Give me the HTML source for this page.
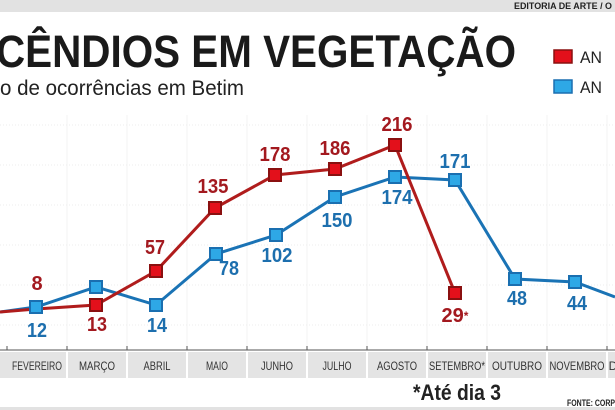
<!DOCTYPE html>
<html><head><meta charset="utf-8"><style>
html,body{margin:0;padding:0;background:#fff;}
body{width:615px;height:410px;overflow:hidden;position:relative;font-family:"Liberation Sans Narrow","Liberation Sans",sans-serif;}
</style></head><body>
<svg width="615" height="410" viewBox="0 0 615 410" xmlns="http://www.w3.org/2000/svg" style="position:absolute;left:0;top:0" font-family="Liberation Sans Narrow, Liberation Sans, sans-serif">
<rect x="0" y="0" width="615" height="12" fill="#e2e2e2"/>
<text x="612" y="9" text-anchor="end" font-size="9" font-weight="bold" fill="#222" textLength="98" lengthAdjust="spacingAndGlyphs">EDITORIA DE ARTE / O</text>
<text x="-4" y="67" font-size="45" font-weight="bold" fill="#1a1a1a" textLength="520" lengthAdjust="spacingAndGlyphs">CÊNDIOS EM VEGETAÇÃO</text>
<text x="0" y="95" font-size="21" fill="#222" textLength="244" lengthAdjust="spacingAndGlyphs">o de ocorrências em Betim</text>
<rect x="554" y="50" width="18" height="13" fill="#e3101b" stroke="#8a1010" stroke-width="1.5"/>
<rect x="554" y="80" width="18" height="13" fill="#2ea8e6" stroke="#1a6fb0" stroke-width="1.5"/>
<text x="580" y="63" font-size="17" fill="#222" textLength="22" lengthAdjust="spacingAndGlyphs">AN</text>
<text x="580" y="93" font-size="17" fill="#222" textLength="22" lengthAdjust="spacingAndGlyphs">AN</text>
<g stroke="#ececec" stroke-width="1" stroke-dasharray="1,2">
<line x1="0" y1="125" x2="615" y2="125"/><line x1="0" y1="165" x2="615" y2="165"/>
<line x1="0" y1="205" x2="615" y2="205"/><line x1="0" y1="245" x2="615" y2="245"/>
<line x1="0" y1="285" x2="615" y2="285"/><line x1="0" y1="325" x2="615" y2="325"/>
</g>
<g stroke="#f3f3f3" stroke-width="1">
<line x1="67" y1="115" x2="67" y2="350"/><line x1="127" y1="115" x2="127" y2="350"/><line x1="187" y1="115" x2="187" y2="350"/><line x1="247" y1="115" x2="247" y2="350"/><line x1="307" y1="115" x2="307" y2="350"/><line x1="367" y1="115" x2="367" y2="350"/><line x1="427" y1="115" x2="427" y2="350"/><line x1="487" y1="115" x2="487" y2="350"/><line x1="547" y1="115" x2="547" y2="350"/><line x1="607" y1="115" x2="607" y2="350"/>
</g>
<rect x="0" y="352" width="615" height="26" fill="#e4e4e4"/>
<g fill="#fff"><rect x="66" y="352" width="2" height="26"/><rect x="126" y="352" width="2" height="26"/><rect x="186" y="352" width="2" height="26"/><rect x="246" y="352" width="2" height="26"/><rect x="306" y="352" width="2" height="26"/><rect x="366" y="352" width="2" height="26"/><rect x="426" y="352" width="2" height="26"/><rect x="486" y="352" width="2" height="26"/><rect x="546" y="352" width="2" height="26"/><rect x="606" y="352" width="2" height="26"/></g>
<line x1="0" y1="350" x2="615" y2="350" stroke="#555" stroke-width="1"/>
<g stroke="#555"><line x1="7" y1="346" x2="7" y2="350"/><line x1="67" y1="346" x2="67" y2="350"/><line x1="127" y1="346" x2="127" y2="350"/><line x1="187" y1="346" x2="187" y2="350"/><line x1="247" y1="346" x2="247" y2="350"/><line x1="307" y1="346" x2="307" y2="350"/><line x1="367" y1="346" x2="367" y2="350"/><line x1="427" y1="346" x2="427" y2="350"/><line x1="487" y1="346" x2="487" y2="350"/><line x1="547" y1="346" x2="547" y2="350"/><line x1="607" y1="346" x2="607" y2="350"/></g>
<g font-size="12" fill="#333" text-anchor="middle">
<text x="37" y="370" textLength="50" lengthAdjust="spacingAndGlyphs">FEVEREIRO</text>
<text x="97" y="370" textLength="36" lengthAdjust="spacingAndGlyphs">MARÇO</text>
<text x="157" y="370" textLength="27" lengthAdjust="spacingAndGlyphs">ABRIL</text>
<text x="217" y="370" textLength="22" lengthAdjust="spacingAndGlyphs">MAIO</text>
<text x="277" y="370" textLength="32" lengthAdjust="spacingAndGlyphs">JUNHO</text>
<text x="337" y="370" textLength="29" lengthAdjust="spacingAndGlyphs">JULHO</text>
<text x="397" y="370" textLength="40" lengthAdjust="spacingAndGlyphs">AGOSTO</text>
<text x="457" y="370" textLength="56" lengthAdjust="spacingAndGlyphs">SETEMBRO*</text>
<text x="517" y="370" textLength="50" lengthAdjust="spacingAndGlyphs">OUTUBRO</text>
<text x="577" y="370" textLength="55" lengthAdjust="spacingAndGlyphs">NOVEMBRO</text>
<text x="613" y="370">D</text>
</g>
<text x="457" y="400" text-anchor="middle" font-size="22" font-weight="bold" fill="#222" textLength="88" lengthAdjust="spacingAndGlyphs">*Até dia 3</text>
<text x="615" y="406" text-anchor="end" font-size="9" font-weight="bold" fill="#222" textLength="48" lengthAdjust="spacingAndGlyphs">FONTE: CORP</text>
<rect x="0" y="407" width="615" height="3" fill="#e2e2e2"/>
<polyline fill="none" stroke="#1a73b5" stroke-width="3" points="0,312 36,307 96,287 156,305 216,254 276,235 335,197 395,177 455,180 515,279 575,282 615,297"/>
<polyline fill="none" stroke="#b01c1c" stroke-width="3" points="0,312 36,309 96,305 156,271 215,208 275,175 335,169 395,145 455,293"/>
<g fill="#2ea8e6" stroke="#1a6fb0" stroke-width="2">
<rect x="30" y="301" width="12" height="12"/><rect x="90" y="281" width="12" height="12"/><rect x="150" y="299" width="12" height="12"/><rect x="210" y="248" width="12" height="12"/><rect x="270" y="229" width="12" height="12"/><rect x="329" y="191" width="12" height="12"/><rect x="389" y="171" width="12" height="12"/><rect x="449" y="174" width="12" height="12"/><rect x="509" y="273" width="12" height="12"/><rect x="569" y="276" width="12" height="12"/>
</g>
<g fill="#e3101b" stroke="#8a1010" stroke-width="2">
<rect x="90" y="299" width="12" height="12"/><rect x="150" y="265" width="12" height="12"/><rect x="209" y="202" width="12" height="12"/><rect x="269" y="169" width="12" height="12"/><rect x="329" y="163" width="12" height="12"/><rect x="389" y="139" width="12" height="12"/><rect x="449" y="287" width="12" height="12"/>
</g>
<g font-size="20" font-weight="bold" fill="#a3191f" text-anchor="middle">
<text x="37" y="290">8</text><text x="97" y="331" textLength="20" lengthAdjust="spacingAndGlyphs">13</text><text x="155" y="254" textLength="20" lengthAdjust="spacingAndGlyphs">57</text><text x="213" y="193" textLength="31" lengthAdjust="spacingAndGlyphs">135</text><text x="275" y="161" textLength="31" lengthAdjust="spacingAndGlyphs">178</text><text x="335" y="155" textLength="31" lengthAdjust="spacingAndGlyphs">186</text><text x="397" y="131" textLength="31" lengthAdjust="spacingAndGlyphs">216</text><text x="455" y="322">29<tspan font-size="12" dy="-2">*</tspan></text>
</g>
<g font-size="20" font-weight="bold" fill="#1d6fae" text-anchor="middle">
<text x="37" y="337" textLength="20" lengthAdjust="spacingAndGlyphs">12</text><text x="157" y="332" textLength="20" lengthAdjust="spacingAndGlyphs">14</text><text x="229" y="275" textLength="20" lengthAdjust="spacingAndGlyphs">78</text><text x="277" y="262" textLength="31" lengthAdjust="spacingAndGlyphs">102</text><text x="337" y="227" textLength="31" lengthAdjust="spacingAndGlyphs">150</text><text x="397" y="204" textLength="31" lengthAdjust="spacingAndGlyphs">174</text><text x="455" y="168" textLength="31" lengthAdjust="spacingAndGlyphs">171</text><text x="517" y="305" textLength="20" lengthAdjust="spacingAndGlyphs">48</text><text x="577" y="310" textLength="20" lengthAdjust="spacingAndGlyphs">44</text>
</g>
</svg>
</body></html>
